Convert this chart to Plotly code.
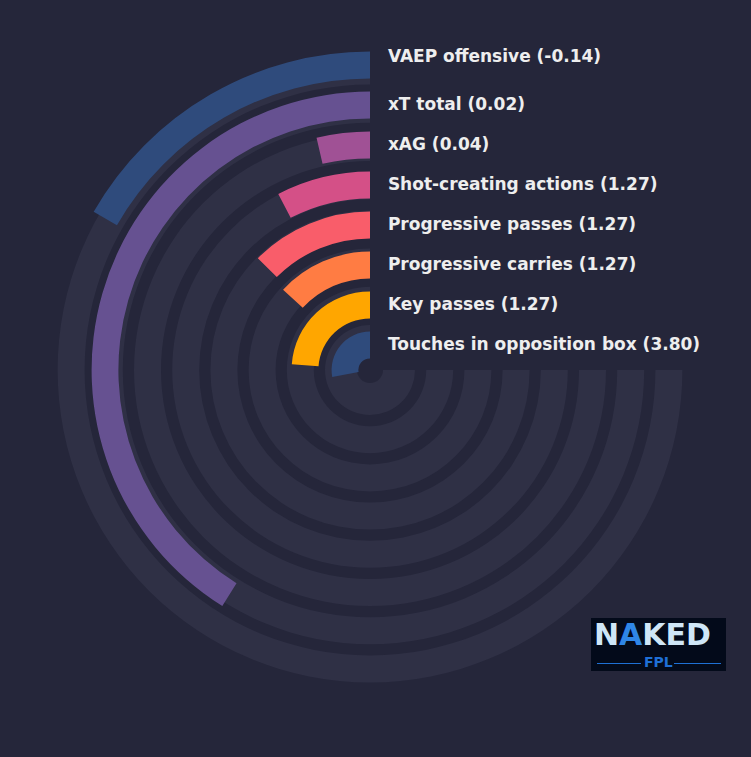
import plotly.graph_objects as go

# ---- data (inner ring -> outer ring) ----
metrics = ["Touches in opposition box", "Key passes", "Progressive carries",
           "Progressive passes", "Shot-creating actions", "xAG", "xT total",
           "VAEP offensive"]
per90 = ["3.80", "1.27", "1.27", "1.27", "1.27", "0.04", "0.02", "-0.14"]
percentile = [37.2, 31.8, 17.5, 16.7, 10.2, 4.8, 54.8, 22.3]
colors = ["#2f4b7c", "#ffa600", "#ff7c43", "#f95d6a", "#d45087",
          "#a05195", "#665191", "#2f4b7c"]

BG = "#25263a"
TRACK = "#2f3045"
TEXT = "#eeeeee"
SPAN = 270.0          # degrees used by the gauge
PX_PER_UNIT = 40.0    # radial axis 0..8 over 320 px

n = len(metrics)

# tracks (full 270 deg background rings)
track_base, track_thick = [], []
for k in range(n):
    inner = (13.0 if k == 0 else 18.0 + 38.2 * k) / PX_PER_UNIT
    outer = (45.0 + 38.2 * k) / PX_PER_UNIT
    track_base.append(inner)
    track_thick.append(outer - inner)

# value bars
bar_base = [k + 0.29 for k in range(n)]
bar_thick = [0.67] * n
bar_width = [p / 100.0 * SPAN for p in percentile]
bar_theta = [w / 2.0 for w in bar_width]

fig = go.Figure()

fig.add_trace(go.Barpolar(
    r=track_thick, base=track_base,
    theta=[SPAN / 2] * n, width=[SPAN] * n,
    marker=dict(color=TRACK, line=dict(width=0)),
    hoverinfo="skip", showlegend=False,
))

fig.add_trace(go.Barpolar(
    r=bar_thick, base=bar_base,
    theta=bar_theta, width=bar_width,
    marker=dict(color=colors, line=dict(width=0)),
    text=metrics, hovertemplate="%{text}<extra></extra>",
    showlegend=False,
))

label_r = [k + 0.6 + (0.2 if k == n - 1 else 0) for k in range(n)]
fig.add_trace(go.Scatterpolar(
    r=label_r, theta=[0] * n,
    mode="markers+text",
    text=[f"<b>{m} ({v})</b>" for m, v in zip(metrics, per90)],
    textposition="middle right",
    textfont=dict(family="DejaVu Sans", size=17, color=TEXT),
    marker=dict(size=27, color="rgba(0,0,0,0)"),
    cliponaxis=False, hoverinfo="skip", showlegend=False,
))

L, T, W, H = 50, 50, 640, 640


def px(x):
    return (x - L) / W


def py(y):
    return 1 - (y - T) / H


shapes = [
    dict(type="rect", xref="paper", yref="paper",
         x0=px(591), x1=px(726), y0=py(671), y1=py(618),
         fillcolor="#030a1a", line=dict(width=0), layer="above"),
    dict(type="line", xref="paper", yref="paper",
         x0=px(597), x1=px(641), y0=py(663.5), y1=py(663.5),
         line=dict(color="#1e70d4", width=1)),
    dict(type="line", xref="paper", yref="paper",
         x0=px(674), x1=px(721), y0=py(663.5), y1=py(663.5),
         line=dict(color="#1e70d4", width=1)),
]

annotations = [
    dict(xref="paper", yref="paper", x=px(652), y=py(634),
         xanchor="center", yanchor="middle", showarrow=False,
         text="<b>N<span style='color:#2f86e6'>A</span>KED</b>",
         font=dict(family="DejaVu Sans", size=30, color="#cfe6f7")),
    dict(xref="paper", yref="paper", x=px(658), y=py(662),
         xanchor="center", yanchor="middle", showarrow=False,
         text="<b>FPL</b>",
         font=dict(family="DejaVu Sans", size=14, color="#1f6fd6")),
]

fig.update_layout(
    width=751, height=757,
    margin=dict(l=L, r=751 - L - W, t=T, b=757 - T - H, pad=0),
    paper_bgcolor=BG, plot_bgcolor=BG,
    showlegend=False,
    polar=dict(
        domain=dict(x=[0, 1], y=[0, 1]),
        bgcolor="rgba(0,0,0,0)",
        barmode="overlay",
        hole=0,
        radialaxis=dict(range=[0, 8], visible=False, showgrid=False),
        angularaxis=dict(rotation=90, direction="counterclockwise",
                         visible=False, showgrid=False),
    ),
    shapes=shapes,
    annotations=annotations,
)

fig.write_html(
    "out.html",
    config={"displayModeBar": False},
    post_script=(
        "document.body.style.margin='0';"
        "document.body.style.padding='0';"
        "document.body.style.background='" + BG + "';"
        "document.documentElement.style.overflow='hidden';"
    ),
)
